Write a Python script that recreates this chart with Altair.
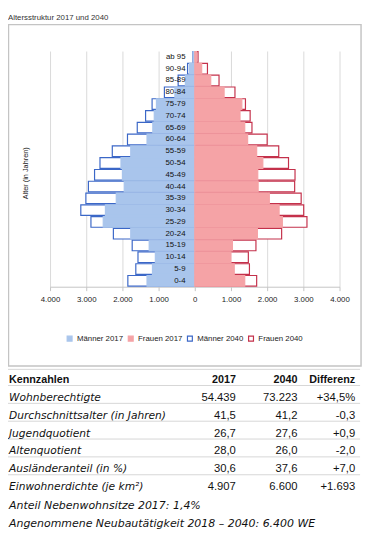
import altair as alt
import pandas as pd

FONT = "Liberation Sans"
FONT_WIDE = "DejaVu Sans"

# ---------------- data ----------------
ages = ["ab 95", "90-94", "85-89", "80-84", "75-79", "70-74", "65-69", "60-64",
        "55-59", "50-54", "45-49", "40-44", "35-39", "30-34", "25-29", "20-24",
        "15-19", "10-14", "5-9", "0-4"]
maenner_2017 = [40, 150, 260, 550, 1060, 1120, 1160, 1320, 1770, 2040, 2000, 1950,
                2170, 2470, 2530, 1770, 1260, 1090, 1170, 1320]
frauen_2017 = [50, 190, 440, 810, 1300, 1250, 1380, 1460, 1710, 1880, 1740, 1750,
               2060, 2330, 2420, 1730, 1040, 1000, 1090, 1380]
maenner_2040 = [50, 200, 460, 840, 1180, 1360, 1590, 1860, 2280, 2620, 2770, 2940,
                3010, 3150, 2870, 2250, 1730, 1570, 1630, 1850]
frauen_2040 = [90, 350, 670, 1110, 1400, 1530, 1580, 2000, 2320, 2590, 2770, 2760,
               2940, 3010, 3100, 2400, 1690, 1480, 1510, 1710]

series_order = ["Männer 2017", "Frauen 2017", "Männer 2040", "Frauen 2040"]
fill_colors = ["#a9c5ec", "#f5a3a6", "#ffffff", "#ffffff"]
stroke_colors = ["#a9c5ec", "#f5a3a6", "#3b67c7", "#c4314b"]
x_ticks = [-4000, -3000, -2000, -1000, 0, 1000, 2000, 3000, 4000]

chart_title = "Altersstruktur 2017 und 2040"
y_title = "Alter (in Jahren)"

kopf = ["Kennzahlen", "2017", "2040", "Differenz"]
kennzahlen = ["Wohnberechtigte", "Durchschnittsalter (in Jahren)", "Jugendquotient",
              "Altenquotient", "Ausländeranteil (in %)", "Einwohnerdichte (je km²)"]
werte_2017 = ["54.439", "41,5", "26,7", "28,0", "30,6", "4.907"]
werte_2040 = ["73.223", "41,2", "27,6", "26,0", "37,6", "6.600"]
differenz = ["+34,5%", "-0,3", "+0,9", "-2,0", "+7,0", "+1.693"]
fussnoten = ["Anteil Nebenwohnsitze 2017: 1,4%",
             "Angenommene Neubautätigkeit 2018 – 2040: 6.400 WE"]

# ---------------- tables ----------------
rows = []
for serie, vals, sign in [("Männer 2040", maenner_2040, -1), ("Frauen 2040", frauen_2040, 1),
                          ("Männer 2017", maenner_2017, -1), ("Frauen 2017", frauen_2017, 1)]:
    for a, v in zip(ages, vals):
        rows.append({"Alter": a, "Serie": serie, "Wert": sign * v})
bar_df = pd.DataFrame(rows)
age_df = pd.DataFrame({"Alter": ages})

head_df = pd.DataFrame({"Zeile": [kopf[0]], "v2017": [kopf[1]], "v2040": [kopf[2]], "diff": [kopf[3]]})
tbl_df = pd.DataFrame({"Zeile": kennzahlen, "v2017": werte_2017, "v2040": werte_2040, "diff": differenz})
note_df = pd.DataFrame({"Zeile": fussnoten})
rule_df = pd.DataFrame({"Zeile": [kopf[0]] + kennzahlen[:-1]})
top_rule_df = pd.DataFrame({"Zeile": [kopf[0]]})
one = pd.DataFrame({"k": [0]})

# ---------------- pyramid ----------------
y_scale = alt.Scale(domain=ages, paddingInner=0.1, paddingOuter=0.05)
legend = alt.Legend(title=None, orient="none", legendX=16, legendY=290,
                    direction="horizontal", columns=4, symbolType="square",
                    symbolSize=25, symbolStrokeWidth=1.2, labelFont=FONT,
                    labelFontSize=8, labelColor="#222", labelOffset=3.5,
                    columnPadding=2.5)

bars = alt.Chart(bar_df).mark_bar(strokeWidth=1.2).encode(
    x=alt.X("Wert:Q", stack=None,
            scale=alt.Scale(domain=[-4000, 4000], nice=False),
            axis=alt.Axis(values=x_ticks, title=None, grid=True, gridColor="#d9d9d9",
                          domainColor="#c4c4c4", tickColor="#c4c4c4", tickSize=4,
                          labelPadding=5, labelFont=FONT, labelFontSize=8,
                          labelColor="#222", labelFlush=False, labelOverlap=False,
                          labelExpr="replace(format(abs(datum.value), ','), ',', '.')")),
    y=alt.Y("Alter:N", scale=y_scale, axis=None),
    fill=alt.Fill("Serie:N", scale=alt.Scale(domain=series_order, range=fill_colors), legend=legend),
    stroke=alt.Stroke("Serie:N", scale=alt.Scale(domain=series_order, range=stroke_colors), legend=legend),
)

age_text = alt.Chart(age_df).mark_text(align="right", baseline="middle", font=FONT,
                                       fontSize=8, color="#111").encode(
    y=alt.Y("Alter:N", scale=y_scale, axis=None),
    x=alt.value(138.5),
    text="Alter:N",
)
pyramid = alt.layer(bars, age_text)

# ---------------- table ----------------
y_domain = [kopf[0]] + kennzahlen + fussnoten
y_tab = alt.Y("Zeile:N", scale=alt.Scale(type="point", domain=y_domain,
                                         range=[336.5, 336.5 + 8 * 18.25], padding=0),
              axis=None)

X_LEFT, X_2017, X_2040, X_DIFF = -42, 190, 253, 312

def col(df, field, x, align, size, weight="normal", style="normal", font=FONT, dy=0):
    return alt.Chart(df).mark_text(align=align, baseline="middle", font=font,
                                   fontSize=size, fontWeight=weight, fontStyle=style,
                                   color="#111", dy=dy).encode(
        y=y_tab, x=alt.value(x), text=f"{field}:N")

rules = alt.Chart(rule_df).mark_rule(color="#d6d6d6", strokeWidth=1, yOffset=5.5).encode(
    y=y_tab, x=alt.value(-43), x2=alt.value(317))
top_rule = alt.Chart(top_rule_df).mark_rule(color="#d6d6d6", strokeWidth=1, yOffset=-11).encode(
    y=y_tab, x=alt.value(-43), x2=alt.value(317))

table = alt.layer(
    rules, top_rule,
    col(head_df, "Zeile", X_LEFT, "left", 11, weight="bold"),
    col(head_df, "v2017", X_2017, "right", 11, weight="bold"),
    col(head_df, "v2040", X_2040, "right", 11, weight="bold"),
    col(head_df, "diff", X_DIFF, "right", 11, weight="bold"),
    col(tbl_df, "Zeile", X_LEFT, "left", 10.9, style="italic", font=FONT_WIDE),
    col(tbl_df, "v2017", X_2017, "right", 11.5),
    col(tbl_df, "v2040", X_2040, "right", 11.5),
    col(tbl_df, "diff", X_DIFF, "right", 11.5),
    col(note_df, "Zeile", X_LEFT, "left", 11.2, style="italic", font=FONT_WIDE, dy=1),
)

# ---------------- frame and titles ----------------
box = alt.Chart(one).mark_rect(fillOpacity=0, stroke="#c4c4c4", strokeWidth=1.5).encode(
    x=alt.value(-42.5), x2=alt.value(318), y=alt.value(-27), y2=alt.value(322))
title_t = alt.Chart(one).mark_text(align="left", baseline="top", font=FONT, fontSize=8,
                                   color="#333").encode(
    x=alt.value(-43), y=alt.value(-38), text=alt.value(chart_title))
ytitle_t = alt.Chart(one).mark_text(angle=270, align="center", baseline="middle", font=FONT,
                                    fontSize=7.5, color="#222").encode(
    x=alt.value(-25), y=alt.value(125), text=alt.value(y_title))

chart = alt.layer(box, pyramid, table, title_t, ytitle_t).resolve_scale(
    y="independent"
).properties(
    width=296, height=241,
    padding={"left": 43, "top": 38, "right": 24, "bottom": 254},
    autosize=alt.AutoSizeParams(type="none"),
).configure_view(strokeWidth=0)

chart.save("out.html", embed_options={"renderer": "svg", "actions": False})
